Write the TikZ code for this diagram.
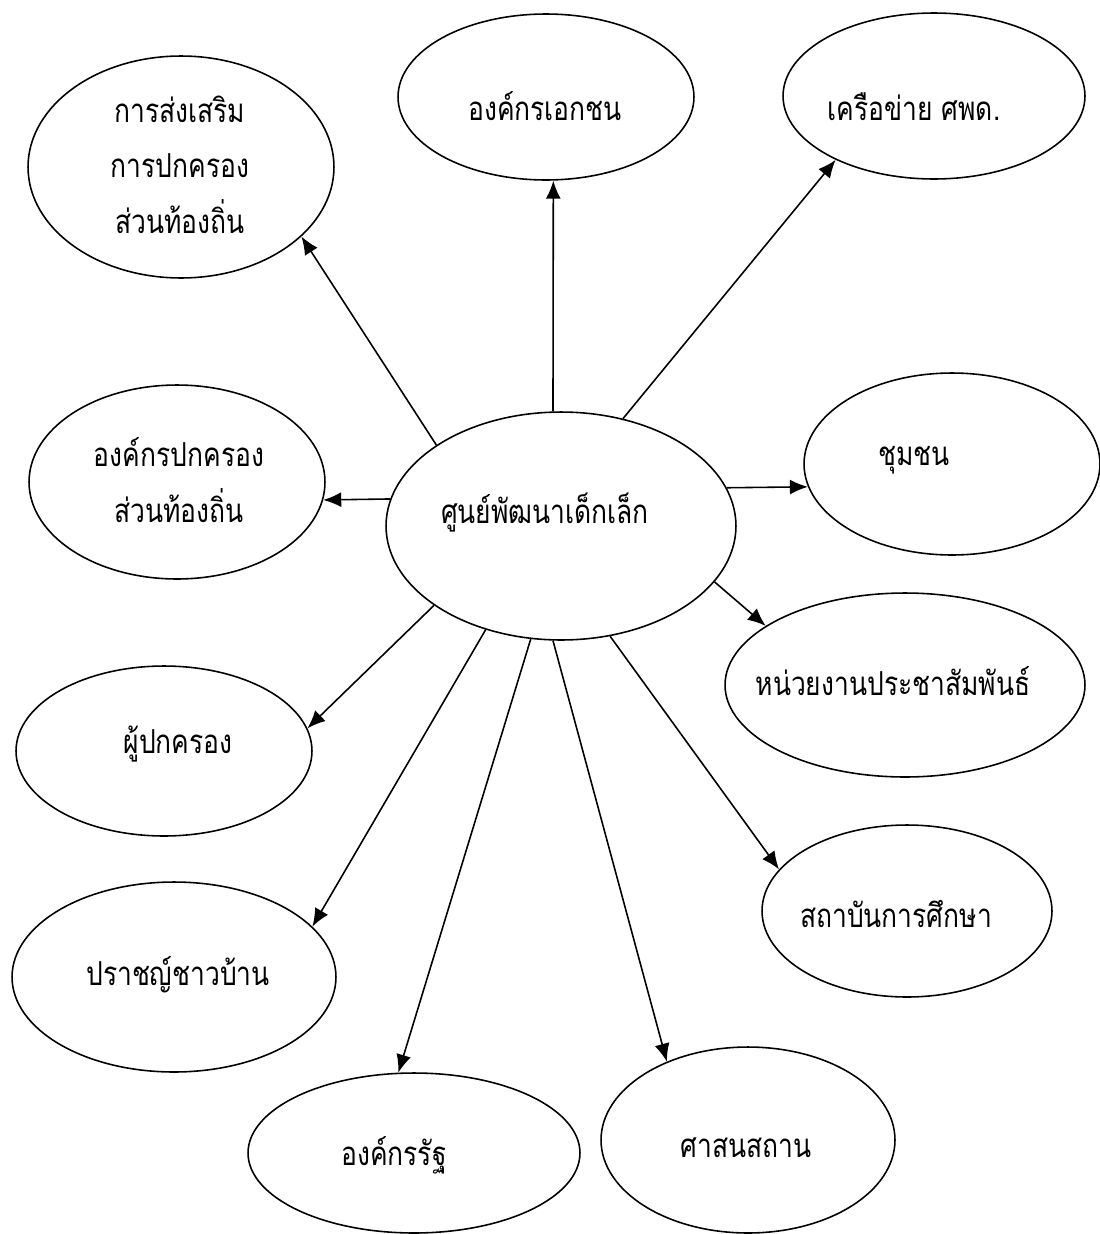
\documentclass[tikz,border=0pt]{standalone}
\usepackage{fontspec}
\newfontfamily\thaifont[Script=Thai,FakeStretch=0.8]{Loma}
\usetikzlibrary{shapes.geometric,arrows.meta}

\begin{document}
\begin{tikzpicture}[x=0.02cm,y=-0.02cm,>={Latex[length=3.6mm,width=3mm]},line width=0.9pt,
    blob/.style={ellipse,draw,inner sep=0pt},
    lbl/.style={font=\thaifont\fontsize{18.8}{31.5}\selectfont,anchor=base,align=center,inner sep=0pt}]
    \useasboundingbox (0,0) rectangle (1099,1234);
    % the ellipses
    \node[blob,minimum width=6.12cm,minimum height=4.44cm] (promote) at (181,167) {};
    \node[blob,minimum width=5.92cm,minimum height=3.32cm] (ngo) at (546,97) {};
    \node[blob,minimum width=6.04cm,minimum height=3.32cm] (network) at (934,96) {};
    \node[blob,minimum width=5.92cm,minimum height=3.88cm] (localgov) at (177,482) {};
    \node[blob,minimum width=7.00cm,minimum height=4.56cm] (hub) at (561,526) {};
    \node[blob,minimum width=5.92cm,minimum height=3.64cm] (community) at (952,464) {};
    \node[blob,minimum width=7.20cm,minimum height=3.68cm] (media) at (905,685) {};
    \node[blob,minimum width=5.92cm,minimum height=3.40cm] (parents) at (164,751) {};
    \node[blob,minimum width=5.80cm,minimum height=3.44cm] (school) at (907,911) {};
    \node[blob,minimum width=6.48cm,minimum height=3.80cm] (sage) at (174,977) {};
    \node[blob,minimum width=6.64cm,minimum height=3.20cm] (state) at (414,1153) {};
    \node[blob,minimum width=5.88cm,minimum height=3.72cm] (temple) at (748,1140) {};
    % the texts (base = last line)
    \node[lbl] (t-promote) at (180,233) {การส่งเสริม\\การปกครอง\\ส่วนท้องถิ่น};
    \node[lbl] (t-ngo) at (545,120) {องค์กรเอกชน};
    \node[lbl] (t-network) at (914,120) {เครือข่าย ศพด.};
    \node[lbl] (t-localgov) at (179,522) {องค์กรปกครอง\\ส่วนท้องถิ่น};
    \node[lbl] (t-hub) at (545,523) {ศูนย์พัฒนาเด็กเล็ก};
    \node[lbl] (t-community) at (914,465) {ชุมชน};
    \node[lbl] (t-media) at (893,695) {หน่วยงานประชาสัมพันธ์};
    \node[lbl] (t-parents) at (178,753) {ผู้ปกครอง};
    \node[lbl] (t-school) at (896,927) {สถาบันการศึกษา};
    \node[lbl] (t-sage) at (178,985) {ปราชญ์ชาวบ้าน};
    \node[lbl] (t-state) at (394,1165) {องค์กรรัฐ};
    \node[lbl] (t-temple) at (746,1157) {ศาสนสถาน};
    % the arrows
    \draw[->] (hub.147) -- (promote.-30);
    \draw[->] (hub.94) -- (ngo.-85);
    \draw[->] (hub.60) -- (network.-147);
    \draw[->] (hub.171) -- (localgov.-7);
    \draw[->] (hub.13) -- (community.-171);
    \draw[->] (hub.-20) -- (media.157);
    \draw[->] (hub.-148) -- (parents.9);
    \draw[->] (hub.-66) -- (school.162);
    \draw[->] (hub.-126) -- (sage.20);
    \draw[->] (hub.-105) -- (state.101);
    \draw[->] (hub.-94) -- (temple.136);
\end{tikzpicture}
\end{document}
